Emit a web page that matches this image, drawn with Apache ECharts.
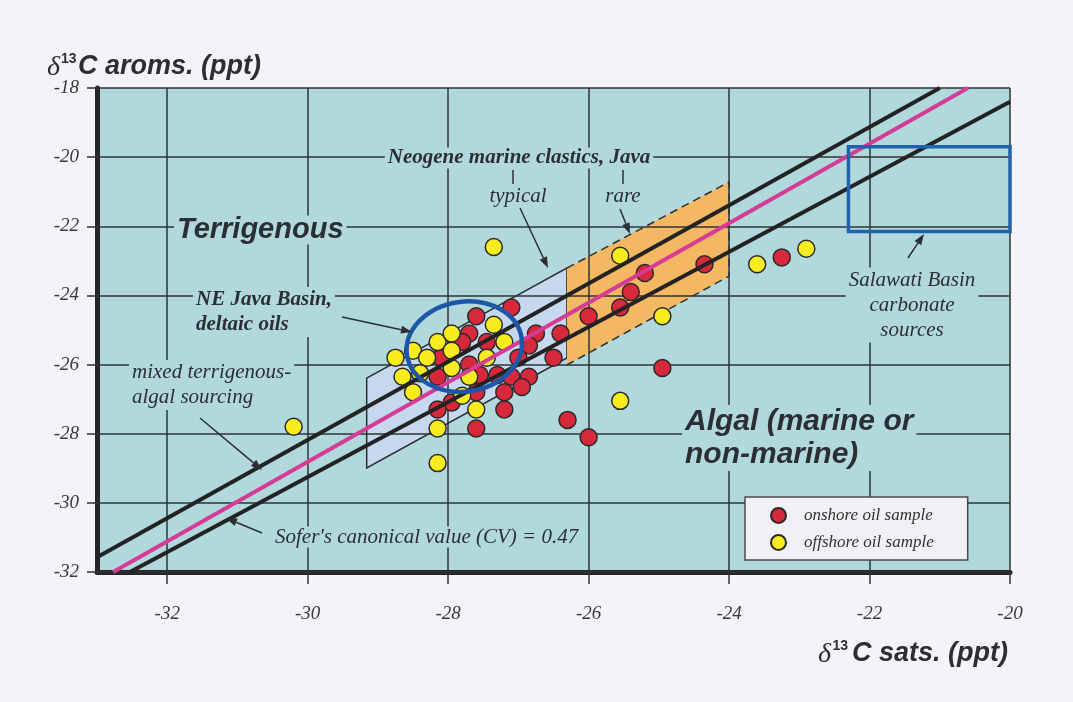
<!DOCTYPE html>
<html><head><meta charset="utf-8">
<script src="https://cdn.jsdelivr.net/npm/echarts@6/dist/echarts.min.js"></script>
<style>html,body{margin:0;padding:0;background:#f3f3f8;}#c{width:1073px;height:702px;}</style>
</head><body><div id="c"></div>
<script>
// ---- data ----
const xTicks = [-32, -30, -28, -26, -24, -22, -20];
const yTicks = [-32, -30, -28, -26, -24, -22, -20, -18];
const seriesNames = ['onshore oil sample', 'offshore oil sample'];
const onshore = [
  [-27.6,-24.6],[-27.1,-24.35],[-27.7,-25.1],[-27.45,-25.35],[-27.8,-25.35],[-28.1,-25.8],
  [-26.75,-25.1],[-26.4,-25.1],[-26.85,-25.45],[-27.0,-25.8],[-26.5,-25.8],[-27.7,-26.0],
  [-28.15,-26.35],[-27.55,-26.3],[-27.3,-26.3],[-27.1,-26.35],[-26.85,-26.35],[-26.95,-26.65],
  [-27.2,-26.8],[-27.6,-26.8],[-27.95,-27.1],[-28.15,-27.3],[-27.2,-27.3],[-27.6,-27.85],
  [-26.3,-27.6],[-26.0,-28.1],[-26.0,-24.6],[-25.55,-24.35],[-25.4,-23.9],[-25.2,-23.35],
  [-24.35,-23.1],[-23.25,-22.9],[-24.95,-26.1]
];
const offshore = [
  [-30.2,-27.8],[-28.75,-25.8],[-28.5,-25.6],[-28.15,-25.35],[-27.95,-25.1],[-27.35,-24.85],
  [-28.3,-25.8],[-27.95,-25.6],[-27.2,-25.35],[-27.45,-25.8],[-28.65,-26.35],[-28.4,-26.25],
  [-27.95,-26.1],[-27.7,-26.35],[-28.5,-26.8],[-27.8,-26.9],[-27.6,-27.3],[-28.15,-27.85],
  [-28.15,-28.85],[-27.35,-22.6],[-25.55,-22.85],[-24.95,-24.6],[-25.55,-27.05],[-23.6,-23.1],
  [-22.9,-22.65]
];
const soferLine = [[-32.77, -32], [-20.6, -18]];
const upperLine = [[-33, -31.57], [-21.0, -18]];
const lowerLine = [[-32.53, -32], [-20, -18.4]];
const typicalBand = [[-29.16, -26.39], [-26.31, -23.21], [-26.31, -25.81], [-29.16, -28.99]];
const rareBand = [[-26.31, -23.21], [-24.0, -20.72], [-24.0, -23.44], [-26.31, -26.01]];
const javaEllipse = { center: [-27.77, -25.48], radii: [0.825, 1.3] };
const salawatiBox = [[-22.3, -19.7], [-20, -22.15]];

// ---- styles ----
const INK = '#2b2f33';
const PLOT_BG = '#b1d9dc';
const serif = 'Liberation Serif';
const sans = 'Liberation Sans';

function arrow(x1, y1, x2, y2) {
  const a = Math.atan2(y2 - y1, x2 - x1), L = 11, W = 4;
  const bx = x2 - L * Math.cos(a), by = y2 - L * Math.sin(a);
  return [
    { type: 'line', z: 20, shape: { x1, y1, x2: bx, y2: by }, style: { stroke: INK, lineWidth: 1.5 } },
    { type: 'polygon', z: 20, shape: { points: [[x2, y2], [bx - W * Math.sin(a), by + W * Math.cos(a)], [bx + W * Math.sin(a), by - W * Math.cos(a)]] }, style: { fill: INK } }
  ];
}
function txt(x, y, text, o) {
  return {
    type: 'text', x, y, z: 15,
    style: Object.assign({
      text, fill: INK, fontFamily: serif, fontStyle: 'italic', fontSize: 21,
      align: 'left', verticalAlign: 'middle'
    }, o || {})
  };
}
const bg = { backgroundColor: PLOT_BG, padding: [0, 3] };

const graphics = [
  // axis titles
  txt(47, 68, 'δ', { fontSize: 28 }),
  txt(61, 59, '13', { fontFamily: sans, fontStyle: 'normal', fontWeight: 'bold', fontSize: 14 }),
  txt(78, 67, 'C aroms. (ppt)', { fontFamily: sans, fontWeight: 'bold', fontSize: 27 }),
  txt(831, 655, 'δ', { fontSize: 28, align: 'right' }),
  txt(848, 646, '13', { fontFamily: sans, fontStyle: 'normal', fontWeight: 'bold', fontSize: 14, align: 'right' }),
  txt(1008, 654, 'C sats. (ppt)', { fontFamily: sans, fontWeight: 'bold', fontSize: 27, align: 'right' }),
  // annotations
  txt(174, 230, 'Terrigenous', Object.assign({ fontFamily: sans, fontWeight: 'bold', fontSize: 29 }, bg)),
  txt(519, 158, 'Neogene marine clastics, Java', Object.assign({ fontWeight: 'bold', align: 'center' }, bg)),
  txt(518, 196, 'typical', { align: 'center' }),
  txt(623, 196, 'rare', { align: 'center' }),
  { type: 'line', z: 20, shape: { x1: 513, y1: 170, x2: 513, y2: 184 }, style: { stroke: INK, lineWidth: 1.5 } },
  { type: 'line', z: 20, shape: { x1: 623, y1: 170, x2: 623, y2: 184 }, style: { stroke: INK, lineWidth: 1.5 } },
  txt(193, 312, 'NE Java Basin,\ndeltaic oils', Object.assign({ fontWeight: 'bold', lineHeight: 25 }, bg)),
  txt(129, 385, 'mixed terrigenous-\nalgal sourcing', Object.assign({ lineHeight: 25 }, bg)),
  txt(272, 537, "Sofer's canonical value (CV) = 0.47", bg),
  txt(682, 438, 'Algal (marine or\nnon-marine)', Object.assign({ fontFamily: sans, fontWeight: 'bold', fontSize: 30, lineHeight: 33 }, bg)),
  txt(912, 305, 'Salawati Basin\ncarbonate\nsources', Object.assign({ align: 'center', lineHeight: 25 }, bg)),
  ...arrow(520, 208, 548, 268),
  ...arrow(620, 209, 630, 234),
  ...arrow(342, 317, 412, 332),
  ...arrow(200, 418, 262, 470),
  ...arrow(262, 533, 226, 518),
  ...arrow(908, 258, 924, 234)
];

const chart = echarts.init(document.getElementById('c'), null, { renderer: 'canvas' });
chart.setOption({
  animation: false,
  backgroundColor: '#f3f3f8',
  grid: { left: 97, right: 63, top: 88, bottom: 130, show: true, backgroundColor: PLOT_BG, borderWidth: 0 },
  xAxis: {
    type: 'value', min: -33, max: -20,
    axisLine: { onZero: false, lineStyle: { color: '#262626', width: 5 } },
    axisTick: { customValues: xTicks, length: 12, lineStyle: { color: '#333', width: 1.5 } },
    axisLabel: { customValues: xTicks, margin: 32, color: '#3a3a3a', fontFamily: serif, fontStyle: 'italic', fontSize: 19 },
    splitLine: { show: false }
  },
  yAxis: {
    type: 'value', min: -32, max: -18, interval: 2,
    axisLine: { show: true, onZero: false, lineStyle: { color: '#262626', width: 5 } },
    axisTick: { show: true, length: 10, lineStyle: { color: '#333', width: 1.5 } },
    axisLabel: { margin: 18, color: '#3a3a3a', fontFamily: serif, fontStyle: 'italic', fontSize: 19 },
    splitLine: { show: false }
  },
  legend: {
    data: seriesNames, orient: 'vertical', left: 745, top: 497, z: 20,
    backgroundColor: '#f0f0f5', borderColor: '#4a4a4a', borderWidth: 1.5,
    padding: [10, 34, 9, 25], itemGap: 10, icon: 'circle', itemWidth: 15, itemHeight: 15,
    textStyle: { fontFamily: serif, fontStyle: 'italic', fontSize: 17, color: '#333', padding: [0, 0, 0, 13] }
  },
  graphic: graphics,
  series: [
    {
      type: 'custom', z: 1, silent: true, data: [[-30, -30]],
      renderItem: (p, api) => {
        const t = typicalBand.map(v => api.coord(v));
        const r = rareBand.map(v => api.coord(v));
        return {
          type: 'group', children: [
            { type: 'polygon', shape: { points: t }, style: { fill: '#c6d8ee', stroke: INK, lineWidth: 1.5 } },
            { type: 'polygon', shape: { points: r }, style: { fill: '#f4b862', stroke: 'none' } },
            { type: 'polyline', shape: { points: [r[0], r[1], r[2], r[3]] }, style: { fill: 'none', stroke: INK, lineWidth: 1.5, lineDash: [8, 5] } }
          ]
        };
      }
    },
    {
      type: 'scatter', z: 2, data: [], silent: true,
      markLine: {
        z: 2, silent: true, symbol: ['none', 'none'], label: { show: false },
        lineStyle: { type: 'solid', color: '#2e3336', width: 1.5 },
        data: xTicks.map(v => ({ xAxis: v })).concat(yTicks.map(v => ({ yAxis: v })))
      }
    },
    {
      name: seriesNames[0], type: 'scatter', z: 3, symbolSize: 17, data: onshore,
      itemStyle: { color: '#d8283c', borderColor: '#2a2a2a', borderWidth: 1.5, opacity: 1 }
    },
    {
      name: seriesNames[1], type: 'scatter', z: 3, symbolSize: 17, data: offshore,
      itemStyle: { color: '#f7ec1e', borderColor: '#2a2a2a', borderWidth: 1.5, opacity: 1 }
    },
    { type: 'line', z: 4, data: upperLine, showSymbol: false, silent: true, lineStyle: { color: '#232323', width: 4 } },
    { type: 'line', z: 4, data: lowerLine, showSymbol: false, silent: true, lineStyle: { color: '#232323', width: 4 } },
    { type: 'line', z: 4, data: soferLine, showSymbol: false, silent: true, lineStyle: { color: '#d43c97', width: 4 } },
    {
      type: 'custom', z: 5, silent: true, data: [[-30, -30]],
      renderItem: (p, api) => {
        const c = api.coord(javaEllipse.center);
        const s = api.size(javaEllipse.radii);
        const b0 = api.coord(salawatiBox[0]), b1 = api.coord(salawatiBox[1]);
        return {
          type: 'group', children: [
            { type: 'ellipse', x: c[0], y: c[1], rotation: 0.15, shape: { cx: 0, cy: 0, rx: s[0], ry: s[1] }, style: { fill: 'none', stroke: '#1f57a8', lineWidth: 4.5 } },
            { type: 'rect', shape: { x: b0[0], y: b0[1], width: b1[0] - b0[0], height: b1[1] - b0[1] }, style: { fill: 'none', stroke: '#1f62ae', lineWidth: 3.5 } }
          ]
        };
      }
    }
  ]
});
</script>
</body></html>
